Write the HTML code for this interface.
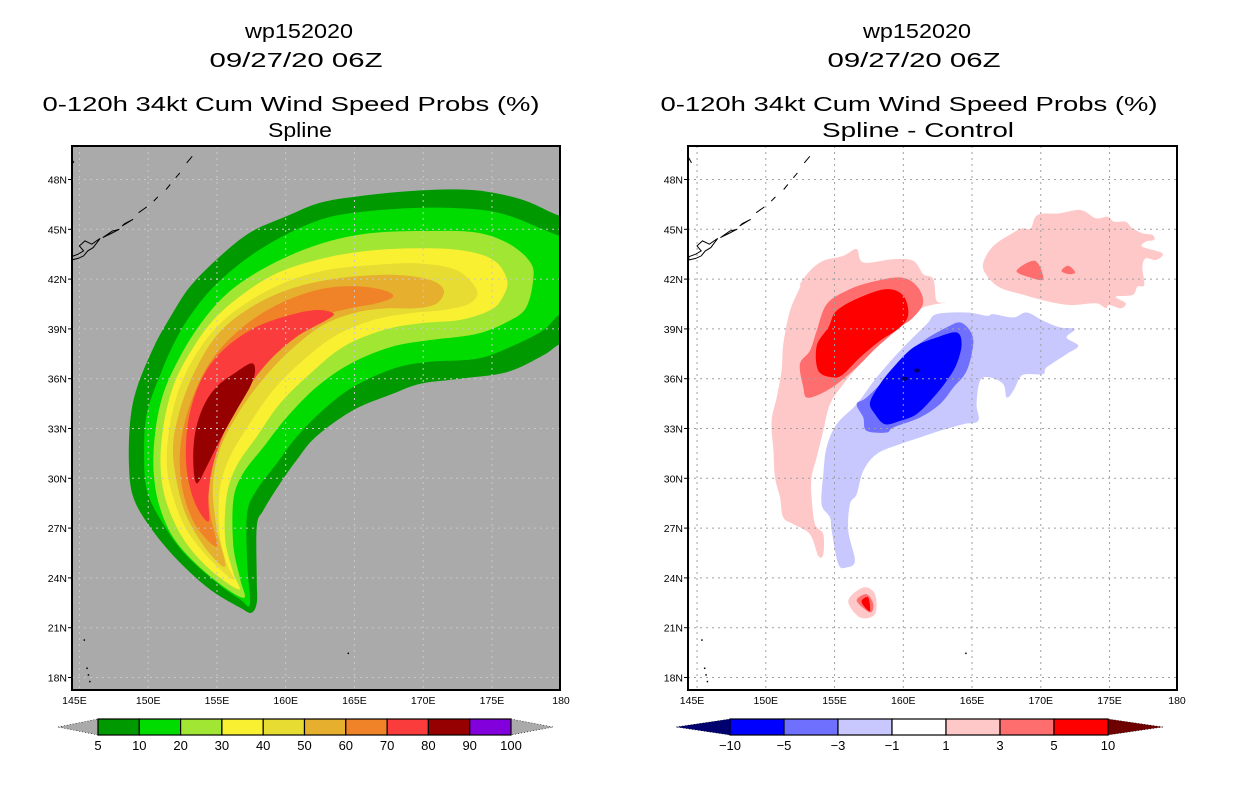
<!DOCTYPE html>
<html><head><meta charset="utf-8">
<style>
html,body{margin:0;padding:0;background:#fff;}
svg{display:block;font-family:"Liberation Sans",sans-serif;}
</style></head>
<body>
<svg id="chart" width="1236" height="800" viewBox="0 0 1236 800" xmlns="http://www.w3.org/2000/svg">
<defs>
<clipPath id="clipL"><rect x="72" y="146" width="488" height="544"/></clipPath>
<clipPath id="clipR"><rect x="688" y="146" width="489" height="544"/></clipPath>
</defs>
<g font-size="20" text-anchor="middle" fill="#000">
<text x="299" y="38" textLength="108" lengthAdjust="spacingAndGlyphs">wp152020</text>
<text x="296" y="67" textLength="173" lengthAdjust="spacingAndGlyphs">09/27/20 06Z</text>
<text x="291" y="111" textLength="497" lengthAdjust="spacingAndGlyphs">0-120h 34kt Cum Wind Speed Probs (%)</text>
<text x="300" y="137" textLength="64" lengthAdjust="spacingAndGlyphs">Spline</text>
</g>
<g font-size="20" text-anchor="middle" fill="#000">
<text x="917" y="38" textLength="108" lengthAdjust="spacingAndGlyphs">wp152020</text>
<text x="914" y="67" textLength="173" lengthAdjust="spacingAndGlyphs">09/27/20 06Z</text>
<text x="909" y="111" textLength="497" lengthAdjust="spacingAndGlyphs">0-120h 34kt Cum Wind Speed Probs (%)</text>
<text x="918" y="137" textLength="192" lengthAdjust="spacingAndGlyphs">Spline - Control</text>
</g>
<g id="left"></g>
<g id="right"></g>
<g id="cbars"></g>
</svg>
<script>
// ---- data (lon, lat in degrees) ----
const lonTicks = [145,150,155,160,165,170,175,180];
const lonTickLabels = ["145E","150E","155E","160E","165E","170E","175E","180"];
const latTicks = [18,21,24,27,30,33,36,39,42,45,48];
const latTickLabels = ["18N","21N","24N","27N","30N","33N","36N","39N","42N","45N","48N"];

const probLevels = [5,10,20,30,40,50,60,70,80];
const probColors = ["#009a00","#00dc00","#a0e632","#faf032","#e6dc32","#e6af2d","#f08228","#fa3c3c","#960000"];
const p5 = [[157.5,21.9],[156.7,22.2],[154.5,23.3],[152.1,25.1],[150.1,27.1],[148.9,28.9],[148.6,30.9],[148.7,33.5],[149.2,35.5],[150.4,37.9],[151.6,39.7],[153.0,41.5],[155.0,43.2],[157.4,44.8],[160.1,45.8],[162.5,46.6],[165.4,47.0],[169.0,47.3],[172.7,47.4],[175.1,47.2],[177.5,46.7],[180,45.8],[181.5,45.8],[181.5,38.3],[180,38.1],[178.7,37.4],[176.1,36.4],[172.7,36.0],[169.8,35.7],[167.8,35.1],[164.9,34.1],[162.2,32.5],[160.8,31.1],[159.6,29.7],[158.4,28.1],[157.9,27.1],[157.9,23.9],[157.9,22.5]];
const p10 = [[157.4,22.4],[156.7,22.7],[155.0,23.7],[152.6,25.5],[150.9,27.5],[149.9,29.3],[149.7,31.5],[149.9,33.9],[150.9,36.3],[152.1,38.5],[153.5,40.3],[155.2,41.9],[157.6,43.5],[160.3,44.8],[163.0,45.7],[166.1,46.1],[170.0,46.3],[173.9,46.2],[176.3,45.8],[178.7,45.0],[180,44.6],[181.5,44.6],[181.5,39.9],[180,39.9],[178.7,38.9],[176.3,37.9],[173.9,37.2],[170.25,37.0],[167.8,36.6],[164.9,35.5],[162.7,34.1],[160.8,32.5],[159.35,30.9],[157.9,29.3],[157.2,27.9],[157.2,24.9]];
const p20 = [[156.9,22.8],[154.5,24.1],[152.1,26.1],[150.9,28.1],[150.4,30.3],[150.5,32.7],[151.1,35.1],[152.3,37.3],[153.8,39.3],[155.7,41.1],[158.1,42.5],[160.8,43.6],[163.7,44.4],[166.6,44.8],[170.25,44.9],[173.9,44.8],[176.3,44.1],[177.8,43.0],[178.0,41.95],[177.5,40.3],[176.3,39.5],[173.9,38.7],[170.25,38.3],[167.6,37.9],[164.7,36.9],[162.25,35.5],[160.1,33.7],[158.4,31.9],[156.9,30.3],[156.2,28.7],[156.2,25.9],[156.7,23.9]];
const p30 = [[156.6,23.3],[154.5,24.5],[152.6,26.3],[151.35,28.5],[150.9,30.7],[151.1,33.1],[151.8,35.5],[153.0,37.5],[154.7,39.5],[156.9,41.1],[159.35,42.35],[162.25,43.15],[165.4,43.65],[169.0,43.85],[172.7,43.75],[175.1,43.15],[176.1,41.95],[175.8,40.94],[174.9,40.14],[172.7,39.54],[169.8,39.34],[167.1,38.93],[164.2,37.93],[161.8,36.32],[159.6,34.52],[157.9,32.51],[156.4,30.7],[155.7,28.9],[155.6,26.3],[156.2,24.3]];
const p40 = [[156.2,23.9],[154.5,25.1],[152.8,26.9],[151.8,28.9],[151.35,30.9],[151.6,33.3],[152.3,35.5],[153.5,37.5],[155.2,39.3],[157.4,40.7],[160.1,41.85],[163.0,42.55],[166.4,42.85],[169.5,42.95],[172.4,42.55],[173.9,41.34],[173.4,40.54],[171.5,40.14],[169.0,39.94],[166.4,39.54],[163.7,38.63],[161.3,37.13],[159.1,35.32],[157.4,33.31],[155.95,31.3],[155.2,29.3],[155.2,26.7],[155.7,24.9]];
const p50 = [[155.6,24.7],[154.25,25.7],[152.8,27.7],[152.1,29.7],[151.8,31.9],[152.3,34.1],[153.3,36.3],[154.7,38.3],[156.4,39.7],[158.9,40.94],[161.8,41.75],[164.9,42.15],[168.1,42.25],[170.5,41.95],[171.5,41.34],[171.0,40.54],[169.5,40.24],[167.35,40.24],[164.9,39.94],[162.5,39.13],[160.1,37.53],[158.1,35.72],[156.4,33.71],[155.2,31.71],[154.7,29.5],[155.0,26.9]];
const p60 = [[154.98,25.9],[153.5,27.1],[152.56,29.1],[152.3,31.3],[152.7,33.5],[153.65,35.7],[154.98,37.53],[156.9,39.13],[159.35,40.44],[162.25,41.34],[164.9,41.58],[167.1,41.34],[167.8,40.94],[166.6,40.54],[164.7,40.24],[162.5,39.74],[160.07,38.53],[158.13,36.73],[156.44,34.72],[154.98,32.51],[154.38,30.3],[154.5,27.89]];
const p70 = [[154.38,27.39],[153.41,28.49],[152.8,30.5],[152.8,32.71],[153.28,34.72],[154.25,36.52],[155.71,37.93],[157.89,39.13],[160.32,39.84],[162.25,40.14],[163.47,39.94],[162.98,39.54],[160.8,38.53],[158.86,37.13],[157.16,35.32],[155.71,33.11],[154.74,30.9],[154.38,28.89]];
const p80 = [[153.53,29.7],[153.28,30.9],[153.41,32.71],[154.01,34.32],[154.98,35.52],[156.44,36.42],[157.53,36.93],[157.77,36.42],[157.41,35.52],[156.44,34.12],[155.22,32.31],[154.25,30.7]];

const diffLevels = [-10,-5,-3,-1,1,3,5,10];
const diffColors = ["#00006e","#0000ff","#7070ff","#c8c8ff","#ffffff","#ffc8c8","#ff6e6e","#ff0000","#6e0000"];
const pinkWest = [[152.48,41.7],[153.21,42.5],[154.18,43.1],[155.64,43.4],[156.61,43.81],[157.09,43.0],[159.27,43.2],[160.73,43.1],[161.45,42.3],[162.18,42.0],[162.42,40.69],[163.03,40.59],[161.45,40.29],[160.24,39.49],[158.3,38.08],[156.85,36.88],[155.64,35.67],[154.67,34.47],[154.18,32.86],[153.7,31.26],[153.33,30.05],[153.33,28.85],[153.58,27.24],[154.18,26.64],[154.18,25.43],[153.82,25.33],[153.21,26.64],[152.0,27.24],[151.27,27.64],[151.03,28.85],[150.67,30.05],[150.55,31.66],[150.42,33.46],[150.79,34.87],[151.15,36.48],[151.27,38.08],[151.76,40.09],[152.48,41.5]];
const midPinkWest = [[152.73,35.47],[152.48,36.88],[153.21,37.68],[153.7,38.89],[154.42,40.49],[155.88,41.3],[157.58,41.8],[159.76,42.1],[160.97,41.6],[161.45,40.59],[160.73,39.69],[159.76,39.09],[158.06,37.88],[156.61,36.68],[155.15,35.67],[153.94,35.07],[152.97,34.87]];
const redWest = [[153.82,36.48],[153.7,37.98],[154.55,39.09],[155.15,40.09],[156.85,40.9],[158.79,41.4],[160.0,41.0],[160.36,39.89],[159.76,39.09],[158.3,38.28],[156.85,37.28],[155.64,36.28],[154.91,36.08]];
const pinkNorthEast = [[165.82,43.0],[166.55,44.0],[168.0,44.8],[168.67,45.06],[169.27,45.06],[169.76,45.86],[171.33,45.96],[172.91,46.16],[174.0,45.66],[174.85,45.76],[175.33,45.46],[176.18,45.46],[176.67,45.06],[177.39,44.76],[178.12,44.66],[178.24,44.36],[177.64,44.26],[177.39,43.95],[178.85,43.55],[178.36,43.15],[177.64,43.25],[177.39,42.75],[177.52,41.65],[177.03,41.55],[176.67,41.04],[175.45,40.94],[176.18,40.54],[175.82,40.24],[174.97,40.44],[174.73,40.24],[174.0,40.54],[172.18,40.44],[170.61,40.64],[168.79,41.04],[167.0,41.5],[166.0,42.3]];
const midPinkNE1 = [[168.24,42.5],[169.58,43.1],[170.18,42.0],[169.2,42.1]];
const midPinkNE2 = [[171.5,42.5],[172.0,42.8],[172.5,42.4],[172.0,42.3]];
const pinkSouth = [[156.0,22.62],[157.09,23.42],[157.94,23.02],[157.94,21.82],[156.85,21.62]];
const midPinkSouth = [[156.61,22.62],[157.33,23.02],[157.82,22.42],[157.58,21.92]];
const redSouth = [[156.97,22.62],[157.45,22.82],[157.58,22.02],[157.21,22.22]];
const lightBlue = [[154.42,31.86],[155.15,33.26],[156.61,34.47],[158.06,36.08],[159.76,37.68],[161.7,39.29],[162.42,39.89],[164.61,39.99],[166.06,39.79],[166.55,39.89],[168.0,39.69],[168.97,39.99],[170.18,39.49],[171.39,39.09],[172.48,38.99],[171.88,38.48],[172.73,37.98],[171.88,37.48],[170.42,36.68],[170.18,36.28],[168.97,36.28],[168.48,36.08],[168.0,35.27],[167.52,34.87],[167.27,35.67],[166.3,36.08],[165.58,35.87],[165.33,34.47],[165.45,33.46],[164.36,33.26],[162.67,32.86],[161.21,32.46],[159.76,32.06],[158.06,31.46],[157.09,30.45],[156.61,29.05],[156.12,28.44],[156.0,26.84],[156.48,25.03],[155.88,24.63],[155.27,24.83],[154.79,26.84],[154.67,27.64],[154.06,28.44],[154.18,30.25]];
const midBlue = [[156.61,34.47],[157.33,34.87],[158.79,36.08],[160.0,37.28],[161.45,38.28],[163.15,39.09],[164.12,39.39],[164.85,38.89],[165.09,38.08],[164.61,36.48],[163.64,35.47],[162.67,34.47],[161.21,33.66],[159.27,33.06],[158.79,32.76],[157.33,32.86],[157.09,33.66]];
const blueCore = [[157.58,34.57],[158.3,35.67],[159.27,36.68],[160.73,37.88],[162.42,38.48],[163.88,38.79],[164.24,38.08],[163.88,36.88],[163.15,35.87],[162.18,34.87],[160.97,33.87],[159.76,33.46],[158.67,33.26],[157.94,33.87]];
const navySpots = [[160.1,36.0],[161.0,36.5]];

const hokkaido = [[144.4,43.35],[144.9,43.5],[145.3,43.7],[145.0,44.0],[145.4,44.3],[145.9,44.1],[146.5,44.45],[146.0,43.9],[145.6,43.7],[145.3,43.4],[144.9,43.25],[144.4,43.15]];
const islands = [[[146.7,44.5],[147.3,44.75],[147.9,45.0],[147.4,44.9]],[[148.1,45.2],[148.7,45.5],[148.9,45.6],[148.3,45.35]],[[149.3,46.0],[149.9,46.35]],[[150.4,46.7],[150.7,46.95]],[[151.3,47.4],[151.6,47.7]],[[152.0,48.1],[152.3,48.4]],[[152.8,49.0],[153.2,49.4]],[[144.4,49.3],[144.6,49.0]]];

// ---- helpers ----
const NS = "http://www.w3.org/2000/svg";
function mk(tag, attrs, parent){const e=document.createElementNS(NS,tag);for(const k in attrs)e.setAttribute(k,attrs[k]);parent.appendChild(e);return e;}
function proj(x0){return {x:lon=>x0+(lon-144.4)*13.75, y:lat=>229.3+(45-lat)*16.6};}
function smoothPath(pts, P){
  const p=pts.map(d=>[P.x(d[0]),P.y(d[1])]);const n=p.length;let s="M"+p[0][0].toFixed(1)+","+p[0][1].toFixed(1);
  for(let i=0;i<n;i++){const a=p[(i-1+n)%n],b=p[i],c=p[(i+1)%n],d=p[(i+2)%n];
    const c1=[b[0]+(c[0]-a[0])/6,b[1]+(c[1]-a[1])/6],c2=[c[0]-(d[0]-b[0])/6,c[1]-(d[1]-b[1])/6];
    s+="C"+c1[0].toFixed(1)+","+c1[1].toFixed(1)+" "+c2[0].toFixed(1)+","+c2[1].toFixed(1)+" "+c[0].toFixed(1)+","+c[1].toFixed(1);}
  return s+"Z";}
function linePath(pts,P,close){return pts.map((d,i)=>(i?"L":"M")+P.x(d[0]).toFixed(1)+","+P.y(d[1]).toFixed(1)).join("")+(close?"Z":"");}

function drawPanel(g, x0, fx, bg, clip, gridColor, layers, side){
  const P=proj(x0);
  const inner=mk("g",{"clip-path":"url(#"+clip+")"},g);
  const bgr=mk("rect",{x:fx,y:146,width:(side==="left"?488:489),height:544,fill:bg},inner);
  
  
  layers.forEach(L=>{
    const path=mk("path",{d:smoothPath(L.pts,P),fill:L.color},inner);
    
    
  });
  // grid
  const gg=mk("g",{stroke:gridColor,"stroke-width":1,"stroke-dasharray":"2,4"},inner);
  
  
  lonTicks.forEach(v=>{if(v<180)mk("line",{x1:P.x(v),x2:P.x(v),y1:146,y2:690},gg);});
  latTicks.forEach(v=>{mk("line",{x1:fx,x2:fx+489,y1:P.y(v),y2:P.y(v)},gg);});
  // coast
  const cg=mk("g",{stroke:"#000","stroke-width":1,fill:"none"},inner);
  
  
  mk("path",{d:linePath(hokkaido,P,true)},cg);
  islands.forEach(is=>mk("path",{d:linePath(is,P,is.length>2)},cg));
  [[145.5,18.6],[145.6,18.2],[145.7,17.8],[145.3,20.3],[164.5,19.5]].forEach(d=>mk("rect",{x:P.x(d[0]),y:P.y(d[1]),width:1.5,height:1.5,fill:"#000",stroke:"none"},cg));
  // frame
  const fr=mk("rect",{x:fx,y:146,width:(side==="left"?488:489),height:544,fill:"none",stroke:"#000","stroke-width":2},g);
  
  
  // ticks
  const tg=mk("g",{"font-size":"10.5",fill:"#000"},g);
  
  
  latTicks.forEach((v,i)=>{mk("line",{x1:fx-4,x2:fx,y1:P.y(v),y2:P.y(v),stroke:"#000"},tg);
    const t=mk("text",{x:fx-5,y:P.y(v)+4,"text-anchor":"end"},tg);t.textContent=latTickLabels[i];
    
    });
  lonTicks.forEach((v,i)=>{let x=P.x(v);if(v===145)x-=5;if(v===180)x=fx+489;
    const t=mk("text",{x:x,y:704,"text-anchor":"middle"},tg);t.textContent=lonTickLabels[i];
    
    });
}

const left=document.getElementById("left"), right=document.getElementById("right");
const probPolys=[p5,p10,p20,p30,p40,p50,p60,p70,p80];
drawPanel(left,71.2,72,"#aaaaaa","clipL","#c8c8c8",probPolys.map((p,i)=>({pts:p,color:probColors[i],name:probLevels[i]+"pct"})),"left");
drawPanel(right,688.8,688,"#ffffff","clipR","#a0a0a0",[
  {pts:pinkWest,color:diffColors[5],name:"pink-west"},
  {pts:midPinkWest,color:diffColors[6],name:"mid-pink-west"},
  {pts:redWest,color:diffColors[7],name:"red-west"},
  {pts:pinkNorthEast,color:diffColors[5],name:"pink-northeast"},
  {pts:midPinkNE1,color:diffColors[6],name:"mid-pink-ne-1"},
  {pts:midPinkNE2,color:diffColors[6],name:"mid-pink-ne-2"},
  {pts:pinkSouth,color:diffColors[5],name:"pink-south"},
  {pts:midPinkSouth,color:diffColors[6],name:"mid-pink-south"},
  {pts:redSouth,color:diffColors[7],name:"red-south"},
  {pts:lightBlue,color:diffColors[3],name:"light-blue"},
  {pts:midBlue,color:diffColors[2],name:"mid-blue"},
  {pts:blueCore,color:diffColors[1],name:"blue-core"}
],"right");
// navy spots
(function(){const P=proj(688.8);navySpots.forEach(d=>{const c=mk("ellipse",{cx:P.x(d[0]),cy:P.y(d[1]),rx:3,ry:2,fill:diffColors[0]},right);
  
  });})();

// ---- colorbars ----
function colorbar(g, x0, x1, triL, triR, colors, labels, leftTri, rightTri, name){
  const n=colors.length, w=(x1-x0)/n, y0=719, y1=735, ym=727;
  const cb=mk("g",{},g);
  
  
  const lt=mk("polygon",{points:`${triL},${ym} ${x0},${y0} ${x0},${y1}`,fill:leftTri,stroke:"#000","stroke-width":0.6,"stroke-dasharray":"1,2"},cb);
  
  
  const rt=mk("polygon",{points:`${triR},${ym} ${x1},${y0} ${x1},${y1}`,fill:rightTri,stroke:"#000","stroke-width":0.6,"stroke-dasharray":"1,2"},cb);
  
  
  colors.forEach((c,i)=>{const r=mk("rect",{x:x0+i*w,y:y0,width:w,height:y1-y0,fill:c,stroke:"#000","stroke-width":1.2},cb);
    
    });
  labels.forEach((l,i)=>{const t=mk("text",{x:x0+i*w,y:750,"text-anchor":"middle","font-size":"13",fill:"#000"},cb);t.textContent=l;
    
    });
}
const cbars=document.getElementById("cbars");
const probBarColors=probColors.concat(["#8200dc"]);
const probBarLabels=[5,10,20,30,40,50,60,70,80,90,100].map(String);
colorbar(cbars,98,511,58,553,probBarColors,probBarLabels,"#aaaaaa","#aaaaaa","prob-colorbar");
const diffBarLabels=diffLevels.map(v=>v<0?"\u2212"+(-v):String(v));
colorbar(cbars,730,1108,676,1163,diffColors.slice(1,8),diffBarLabels,diffColors[0],diffColors[8],"diff-colorbar");
</script>
</body></html>
